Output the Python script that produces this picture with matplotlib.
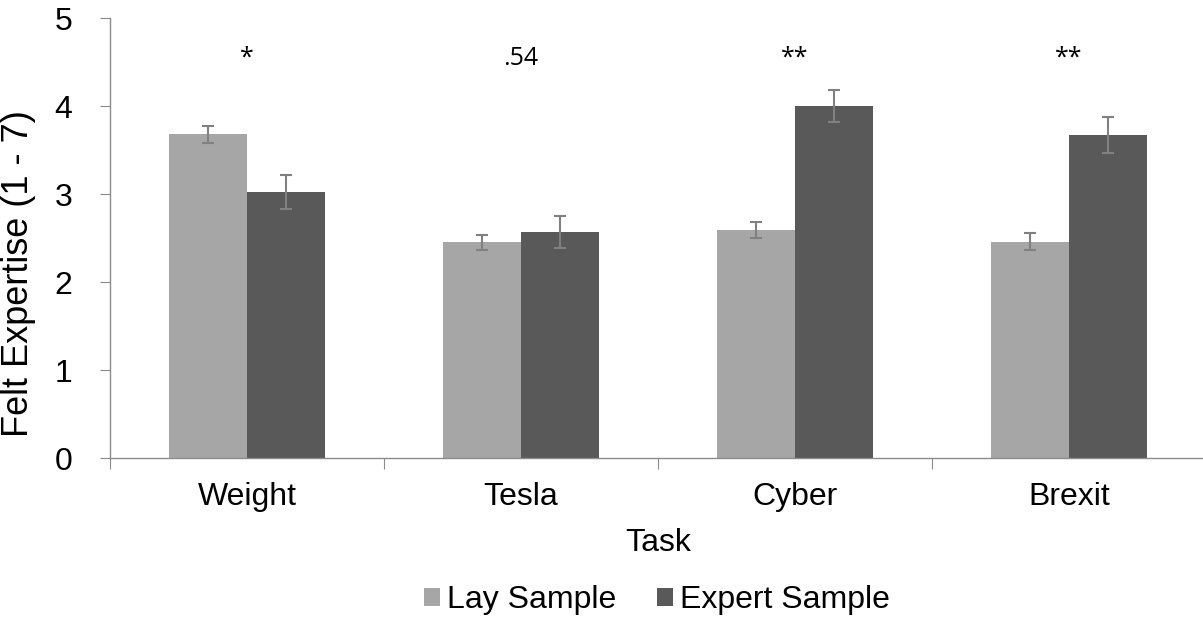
import matplotlib
matplotlib.use("Agg")
import matplotlib.pyplot as plt
import numpy as np

# data
tasks = ["Weight", "Tesla", "Cyber", "Brexit"]
lay_mean = [3.68, 2.45, 2.59, 2.46]
lay_err = [0.095, 0.087, 0.09, 0.1]
expert_mean = [3.02, 2.57, 4.00, 3.67]
expert_err = [0.195, 0.18, 0.18, 0.2]
sig_labels = ["*", ".54", "**", "**"]
sig_y = 4.54

LAY = "#A6A6A6"
EXPERT = "#595959"
ERRC = "#808080"
AXC = "#8C8C8C"

plt.rcParams['font.family'] = ['Liberation Sans', 'DejaVu Sans']

W, H = 1203, 622
fig = plt.figure(figsize=(W / 100, H / 100), dpi=100)
ax = fig.add_axes([110 / W, (H - 458) / H, 1096 / W, 440 / H])

x = np.arange(len(tasks))
bw = 0.285
ekw = dict(ecolor=ERRC, elinewidth=1.5, capsize=4.5, capthick=1.5)
ax.bar(x - bw / 2, lay_mean, bw, color=LAY, yerr=lay_err, error_kw=ekw,
       label="Lay Sample")
ax.bar(x + bw / 2, expert_mean, bw, color=EXPERT, yerr=expert_err,
       error_kw=ekw, label="Expert Sample")

for xi, s in zip(x, sig_labels):
    ax.text(xi, sig_y, s, ha="center", va="center", fontsize=18,
            family=["Open Sans", "DejaVu Sans"])

ax.set_xlim(-0.5, len(tasks) - 0.5)
ax.set_ylim(0, 5)
ax.set_yticks(range(6))
ax.tick_params(axis="y", labelsize=23, length=7, color=AXC, pad=20)

# category ticks on the boundaries, labels at the centres
ax.set_xticks(np.arange(len(tasks) + 1) - 0.5)
ax.set_xticklabels([])
ax.set_xticks(x, minor=True)
ax.tick_params(axis="x", which="major", length=8, color=AXC)
ax.set_xticklabels(tasks, minor=True)
ax.tick_params(axis="x", which="minor", length=0, labelsize=23, pad=17)

for sp in ["top", "right"]:
    ax.spines[sp].set_visible(False)
for sp in ["left", "bottom"]:
    ax.spines[sp].set_color(AXC)
    ax.spines[sp].set_linewidth(1)

ax.set_ylabel("Felt Expertise (1 - 7)", fontsize=26)
ax.yaxis.set_label_coords(-74 / 1096, 0.42)
ax.set_xlabel("Task", fontsize=23, labelpad=12)

fig.legend(loc="center", bbox_to_anchor=(657 / W, 1 - 600 / H), ncol=2,
           frameon=False, fontsize=23, handlelength=0.5, handleheight=0.5,
           handletextpad=0.2, columnspacing=1.3)

fig.savefig("out.png", dpi=100)
